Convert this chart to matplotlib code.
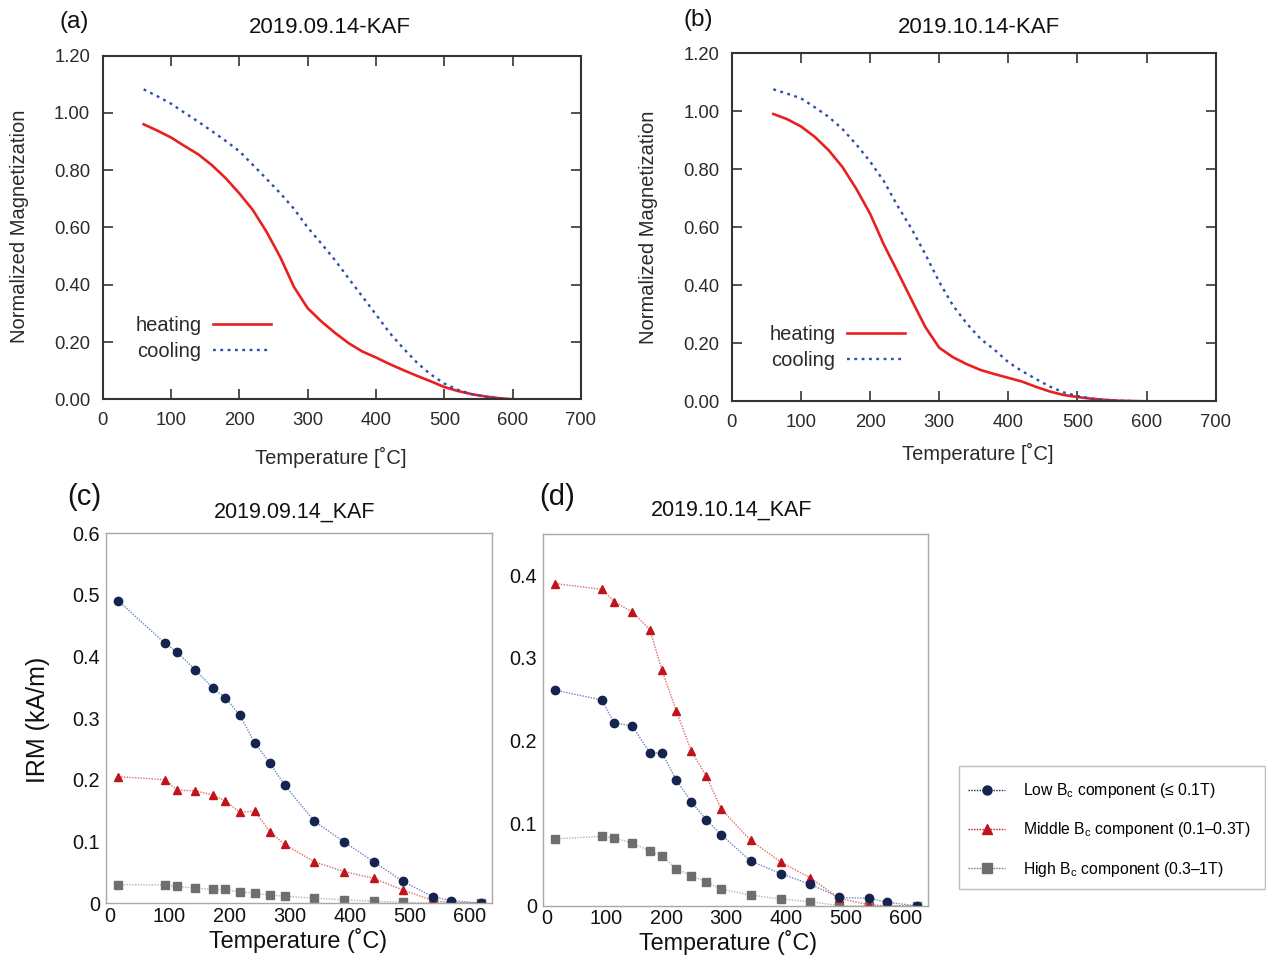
import matplotlib
matplotlib.use('Agg')
import matplotlib.pyplot as plt
from matplotlib.lines import Line2D
from matplotlib.patches import Rectangle

plt.rcParams['font.family'] = ['Liberation Sans', 'DejaVu Sans']
plt.rcParams['mathtext.fontset'] = 'custom'
plt.rcParams['mathtext.rm'] = 'Liberation Sans'

# thermomagnetic curves, panels (a) and (b)
temp_ab = [60, 80, 100, 120, 140, 160, 180, 200, 220, 240, 260, 280, 300, 320,
           340, 360, 380, 400, 420, 440, 460, 480, 500, 520, 540, 560, 580, 600]
heat_a = [0.960, 0.938, 0.914, 0.884, 0.855, 0.817, 0.772, 0.719, 0.660, 0.584, 0.496, 0.392, 0.318, 0.272,
          0.232, 0.196, 0.167, 0.146, 0.123, 0.102, 0.082, 0.063, 0.043, 0.029, 0.018, 0.010, 0.004, 0.000]
cool_a = [1.082, 1.058, 1.032, 1.000, 0.969, 0.936, 0.902, 0.866, 0.818, 0.769, 0.719, 0.665, 0.600, 0.544,
          0.486, 0.422, 0.359, 0.296, 0.232, 0.178, 0.128, 0.087, 0.055, 0.033, 0.018, 0.009, 0.003, 0.000]
heat_b = [0.991, 0.973, 0.948, 0.912, 0.866, 0.808, 0.733, 0.647, 0.540, 0.446, 0.350, 0.256, 0.185, 0.152,
          0.128, 0.108, 0.094, 0.081, 0.068, 0.050, 0.034, 0.022, 0.015, 0.009, 0.005, 0.002, 0.001, 0.000]
cool_b = [1.076, 1.061, 1.045, 1.014, 0.981, 0.939, 0.886, 0.827, 0.759, 0.673, 0.595, 0.507, 0.412, 0.330,
          0.268, 0.215, 0.178, 0.135, 0.104, 0.077, 0.051, 0.031, 0.018, 0.010, 0.005, 0.002, 0.001, 0.000]

# IRM components, panels (c) and (d)
temp_cd = [15, 93, 113, 143, 173, 193, 217, 242, 267, 292, 341, 391, 440, 489, 539, 569, 618]
low_c = [0.490, 0.421, 0.407, 0.378, 0.348, 0.333, 0.305, 0.260, 0.227, 0.191, 0.133, 0.099, 0.067, 0.035, 0.010, 0.004, 0.000]
mid_c = [0.205, 0.200, 0.183, 0.182, 0.175, 0.166, 0.147, 0.149, 0.116, 0.095, 0.067, 0.051, 0.040, 0.021, 0.004, 0.001, 0.000]
high_c = [0.030, 0.029, 0.027, 0.024, 0.022, 0.022, 0.018, 0.016, 0.013, 0.011, 0.008, 0.005, 0.003, 0.001, 0.000, 0.000, 0.000]
low_d = [0.261, 0.249, 0.221, 0.218, 0.185, 0.185, 0.152, 0.126, 0.104, 0.086, 0.054, 0.039, 0.026, 0.010, 0.009, 0.004, 0.000]
mid_d = [0.390, 0.383, 0.368, 0.356, 0.334, 0.285, 0.236, 0.187, 0.157, 0.117, 0.079, 0.053, 0.034, 0.009, 0.001, 0.000, 0.000]
high_d = [0.081, 0.084, 0.082, 0.076, 0.066, 0.060, 0.045, 0.036, 0.029, 0.020, 0.013, 0.008, 0.005, 0.000, 0.000, 0.000, 0.000]

labels_abcd = ['(a)', '(b)', '(c)', '(d)']
titles = ['2019.09.14-KAF', '2019.10.14-KAF', '2019.09.14_KAF', '2019.10.14_KAF']
comp_labels = ['Low B$_\\mathregular{c}$ component (≤ 0.1T)',
               'Middle B$_\\mathregular{c}$ component (0.1–0.3T)',
               'High B$_\\mathregular{c}$ component (0.3–1T)']

W, H = 1266, 956
fig = plt.figure(figsize=(W / 100, H / 100), dpi=100)

txt = '#2a2a2a'
red = '#e8201f'
blue = '#2a4fb0'


def thermo_axes(rect, heat, cool, title, tpos, xl, yl, legpos):
    ax = fig.add_axes(rect)
    ax.plot(temp_ab, heat, color=red, lw=1.9, label='heating')
    ax.plot(temp_ab, cool, color=blue, lw=1.7, ls=(0, (1.2, 1.9)), label='cooling')
    ax.set_xlim(0, 700)
    ax.set_ylim(0, 1.2)
    ax.set_xticks(range(0, 701, 100))
    ax.set_yticks([0, 0.2, 0.4, 0.6, 0.8, 1.0, 1.2])
    ax.set_yticklabels(['%.2f' % v for v in [0, 0.2, 0.4, 0.6, 0.8, 1.0, 1.2]])
    ax.tick_params(direction='in', top=True, right=True, length=7, width=1.2,
                   labelsize=13.3, pad=9, colors='#333333', labelcolor=txt)
    for s in ax.spines.values():
        s.set_linewidth(1.5)
        s.set_color('#333333')
    ax.set_xlabel('Temperature [˚C]', fontsize=14.5, color=txt, va='center')
    ax.xaxis.set_label_coords(*xl)
    ax.set_ylabel('Normalized Magnetization', fontsize=14.5, color=txt, va='center')
    ax.yaxis.set_label_coords(*yl)
    ax.text(tpos[0], tpos[1], title, transform=ax.transAxes, ha='center', va='center',
            fontsize=16, color='#111111')
    ax.legend(loc='center right', bbox_to_anchor=legpos, frameon=False, markerfirst=False,
              fontsize=14.5, handlelength=2.9, handletextpad=0.55, labelspacing=0.35,
              borderpad=0, borderaxespad=0, labelcolor=txt)
    return ax


thermo_axes([0.0811, 0.5823, 0.3778, 0.3596], heat_a, cool_a, titles[0], (0.474, 1.083),
            (0.477, -0.168), (-0.173, 0.503), (0.352, 0.178))
thermo_axes([0.5781, 0.5802, 0.3821, 0.3640], heat_b, cool_b, titles[1], (0.511, 1.0756),
            (0.509, -0.149), (-0.173, 0.501), (0.358, 0.1546))

navy = '#14244e'
dred = '#c0141c'
gray = '#6e6e6e'


def irm_axes(rect, low, mid, high, title, tpos, xl, ymax, yticks):
    ax = fig.add_axes(rect)
    ax.plot(temp_cd, high, color='#b5b5b5', lw=1, ls=(0, (1, 1)), marker='s', ms=5.5,
            mfc=gray, mec=gray)
    ax.plot(temp_cd, mid, color='#e06a6a', lw=1, ls=(0, (1, 1)), marker='^', ms=6,
            mfc=dred, mec=dred)
    ax.plot(temp_cd, low, color='#6b86c2', lw=1, ls=(0, (1, 1)), marker='o', ms=6,
            mfc=navy, mec=navy)
    ax.set_xlim(-6, 637)
    ax.set_ylim(0, ymax)
    ax.set_xticks(range(0, 601, 100))
    ax.set_yticks(yticks)
    ax.set_yticklabels(['0' if v == 0 else '%.1f' % v for v in yticks])
    ax.tick_params(length=0, labelsize=14.3, pad=4, labelcolor='#111111')
    ax.tick_params(axis='x', pad=2.5)
    for s in ax.spines.values():
        s.set_linewidth(1)
        s.set_color('#a8a8a8')
    ax.set_xlabel('Temperature (˚C)', fontsize=16.8, color='#111111', va='center')
    ax.xaxis.set_label_coords(*xl)
    ax.text(tpos[0], tpos[1], title, transform=ax.transAxes, ha='center', va='center',
            fontsize=15.5, color='#111111')
    return ax


axc = irm_axes([0.0835, 0.0554, 0.3051, 0.3870], low_c, mid_c, high_c, titles[2], (0.49, 1.057),
               (0.499, -0.102), 0.6, [0, 0.1, 0.2, 0.3, 0.4, 0.5, 0.6])
axc.set_ylabel('IRM (kA/m)', fontsize=18, color='#111111', va='center')
axc.yaxis.set_label_coords(-0.175, 0.495)
irm_axes([0.4287, 0.0526, 0.3043, 0.3888], low_d, mid_d, high_d, titles[3], (0.491, 1.0646),
         (0.48, -0.098), 0.45, [0, 0.1, 0.2, 0.3, 0.4])

fig.text(74 / W, 1 - 22 / H, labels_abcd[0], fontsize=17.5, ha='center', va='center', color='#111111')
fig.text(698 / W, 1 - 20 / H, labels_abcd[1], fontsize=17.5, ha='center', va='center', color='#111111')
fig.text(84 / W, 1 - 497 / H, labels_abcd[2], fontsize=21, ha='center', va='center', color='#111111')
fig.text(557 / W, 1 - 497 / H, labels_abcd[3], fontsize=21, ha='center', va='center', color='#111111')

# legend frame drawn separately so the entries can sit where they do in the original
fig.patches.append(Rectangle((959.3 / W, 1 - 889 / H), 305.7 / W, 123 / H, transform=fig.transFigure,
                             fill=False, edgecolor='#bdbdbd', lw=1))
handles = [Line2D([], [], color=navy, lw=1, ls=(0, (1, 1)), marker='o', ms=6.5),
           Line2D([], [], color=dred, lw=1, ls=(0, (1, 1)), marker='^', ms=6.5),
           Line2D([], [], color=gray, lw=1, ls=(0, (1, 1)), marker='s', ms=6.5)]
fig.legend(handles, comp_labels, loc='upper left', bbox_to_anchor=(968 / W, 1 - 781 / H),
           fontsize=11.3, frameon=False, handlelength=2.36, handletextpad=1.15,
           labelspacing=1.3, borderpad=0, borderaxespad=0)

plt.savefig('out.png', dpi=100)
